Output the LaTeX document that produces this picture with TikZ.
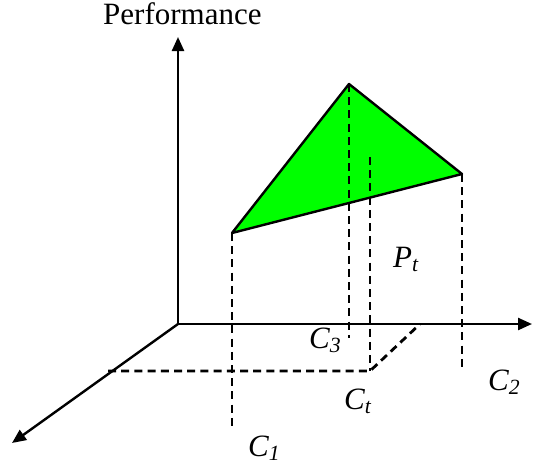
\documentclass[tikz,border=0pt]{standalone}
\usepackage{fontspec}
\setmainfont{Liberation Serif}
\usetikzlibrary{arrows.meta}

\begin{document}
\begin{tikzpicture}[
    x=0.5pt, y=-0.5pt,
    >={Triangle[length=7pt,width=6pt]},
    line width=1.2pt,
    lbl/.style={anchor=base west, inner sep=0pt, font=\fontsize{15.5}{18}\selectfont\itshape},
    proj/.style={line width=1.4pt, dash pattern=on 4pt off 2.6pt},
]
\useasboundingbox (0,0) rectangle (535,466);

%------------------------------------------------------------
% axes, origin at O
%------------------------------------------------------------
\coordinate (O)    at (178,324);
\coordinate (Ytip) at (178,37);
\coordinate (Xtip) at (532,324);
\coordinate (Ztip) at (12,443);

\draw[->] (O) -- (Ytip);
\draw[->] (O) -- (Xtip);
\draw[->] (O) -- (Ztip);

\node[lbl, font=\fontsize{15.5}{18}\selectfont] (perf) at (102,25) {Performance};

%============================================================
%  performance triangle
%============================================================
\coordinate (P1) at (232,233);
\coordinate (P3) at (349,84);
\coordinate (P2) at (462,174);

\draw[fill={rgb,255:red,0;green,255;blue,0}, line join=round] (P1) -- (P3) -- (P2) -- cycle;

% --- projections to the base plane ---
\coordinate (F1) at (232,426);
\coordinate (F3) at (349,338);
\coordinate (F2) at (462,370);

\draw[proj] (P1) -- (F1);
\draw[proj] (P3) -- (F3);
\draw[proj] (P2) -- (F2);

% --- target point Pt and its base lines ---
\coordinate (Pt)  at (370,157);
\coordinate (Ct)  at (370,371);
\coordinate (CtL) at (108,371);
\coordinate (CtX) at (420,324);

\draw[proj] (Pt) -- (Ct);
\draw[proj] (CtL) -- (Ct) -- (CtX);

% --- labels ---
\node[lbl] (lP)  at (392,267) {P\textsubscript{t}};
\node[lbl] (lC3) at (308,348) {C\textsubscript{3}};
\node[lbl] (lCt) at (343,409) {C\textsubscript{t}};
\node[lbl] (lC2) at (487,390) {C\textsubscript{2}};
\node[lbl] (lC1) at (247,456) {C\textsubscript{1}};

\end{tikzpicture}
\end{document}
